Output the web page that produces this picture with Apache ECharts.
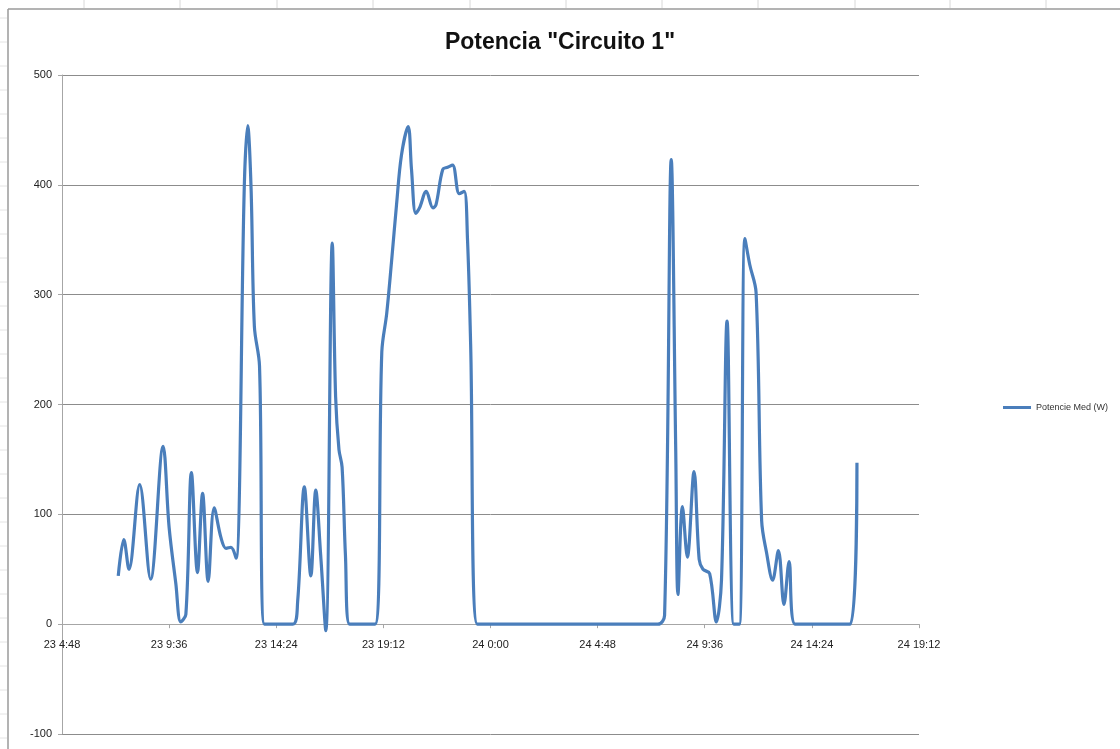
<!DOCTYPE html>
<html>
<head>
<meta charset="utf-8">
<script src="https://cdn.jsdelivr.net/npm/echarts@6/dist/echarts.min.js"></script>
<style>
  html, body { margin: 0; padding: 0; background: #fff; }
  #chart { width: 1120px; height: 749px; }
</style>
</head>
<body>
<div id="chart"></div>
<script>
// hours counted from day 23 0:00
var hours = [
  7.32, 7.57, 7.80, 8.28, 8.77, 9.33, 9.60, 9.90, 10.12, 10.35,
  10.60, 10.87, 11.10, 11.35, 11.62, 11.92, 12.15, 12.37, 12.60, 12.97,
  13.12, 13.27, 13.42, 13.65, 13.87, 15.14, 15.36, 15.66, 15.95, 16.17,
  16.39, 16.62, 16.91, 17.06, 17.21, 17.35, 17.50, 17.69, 18.83, 19.13,
  19.35, 19.57, 19.79, 20.01, 20.31, 20.46, 20.65, 20.82, 21.12, 21.42,
  21.56, 21.86, 22.08, 22.30, 22.60, 22.82, 22.97, 23.11, 23.41, 31.50,
  31.80, 32.10, 32.30, 32.40, 32.60, 32.82, 33.12, 33.35, 33.52, 33.82,
  34.12, 34.35, 34.60, 34.90, 35.15, 35.40, 35.62, 35.90, 36.15, 36.37,
  36.64, 36.90, 37.15, 37.38, 37.65, 40.12, 40.42
];
var potencia = [
  44, 77, 50, 127, 41, 162, 88, 37, 2, 9,
  138, 47, 119, 39, 106, 79, 69, 70, 60, 400,
  454, 398, 271, 235, 0, 0, 21, 125, 44, 122,
  63, -6, 347, 207, 159, 143, 63, 0, 0, 248,
  283, 331, 382, 427, 453, 414, 374, 379, 394, 379,
  382, 414, 416, 418, 392, 394, 350, 255, 0, 0,
  8, 423, 158, 27, 107, 61, 139, 59, 50, 46,
  2, 40, 276, 0, 0, 351, 327, 302, 94, 65,
  40, 67, 18, 57, 0, 0, 147
];
var seriesName = 'Potencie Med (W)';

var chart = echarts.init(document.getElementById('chart'));

function timeLabel(v) {
  var d = Math.floor(v / 24 + 1e-9);
  var rem = v - d * 24;
  var hh = Math.floor(rem + 1e-9);
  var mm = Math.round((rem - hh) * 60);
  if (mm === 60) { hh += 1; mm = 0; }
  return (23 + d) + ' ' + hh + ':' + (mm < 10 ? '0' + mm : mm);
}

var gridTop = 75, gridBottom = 15, yMin = -100, yMax = 500;
// lift the x axis up to the zero line, Excel style
var plotH = 749 - gridTop - gridBottom;
var zeroOffset = -plotH * (0 - yMin) / (yMax - yMin);

// spreadsheet cells behind the chart (decoration only)
var deco = [];
[84, 180, 277, 373, 470, 566, 662, 758, 855, 950, 1046].forEach(function (x) {
  deco.push({ type: 'line', shape: { x1: x, y1: 0, x2: x, y2: 8 }, style: { stroke: '#d8d8d8', lineWidth: 1 }, silent: true });
});
for (var ry = 18; ry < 749; ry += 24) {
  deco.push({ type: 'line', shape: { x1: 0, y1: ry, x2: 7, y2: ry }, style: { stroke: '#e4e4e4', lineWidth: 1 }, silent: true });
}
deco.push({ type: 'line', shape: { x1: 8, y1: 9, x2: 1120, y2: 9 }, style: { stroke: '#9a9a9a', lineWidth: 1.5 }, silent: true });
deco.push({ type: 'line', shape: { x1: 8, y1: 9, x2: 8, y2: 749 }, style: { stroke: '#9a9a9a', lineWidth: 1.5 }, silent: true });

var option = {
  animation: false,
  backgroundColor: '#fff',
  textStyle: { fontFamily: 'Liberation Sans, Arial, sans-serif' },
  graphic: deco,
  title: {
    text: 'Potencia "Circuito 1"',
    left: 'center',
    top: 26,
    textStyle: { fontSize: 23, fontWeight: 'bold', color: '#111', fontFamily: 'Liberation Sans, Arial, sans-serif' }
  },
  legend: {
    left: 998,
    top: 398,
    icon: 'rect',
    itemWidth: 28,
    itemHeight: 3,
    itemGap: 4,
    textStyle: { fontSize: 9, color: '#333' },
    data: [seriesName]
  },
  grid: { left: 62, right: 201, top: gridTop, bottom: gridBottom, containLabel: false },
  xAxis: {
    type: 'value',
    min: 4.8,
    max: 43.2,
    interval: 4.8,
    offset: zeroOffset,
    axisLine: { onZero: false, lineStyle: { color: '#a6a6a6', width: 1 } },
    axisTick: { show: true, length: 4, lineStyle: { color: '#a6a6a6' } },
    axisLabel: { formatter: timeLabel, fontSize: 11, color: '#222', margin: 15 },
    splitLine: { show: false }
  },
  yAxis: {
    type: 'value',
    min: yMin,
    max: yMax,
    interval: 100,
    axisLine: { show: true, lineStyle: { color: '#a6a6a6', width: 1 } },
    axisTick: { show: true, length: 4, lineStyle: { color: '#a6a6a6' } },
    axisLabel: { fontSize: 11, color: '#222', margin: 10 },
    splitLine: { show: true, lineStyle: { color: '#8c8c8c', width: 1 } }
  },
  series: [{
    name: seriesName,
    type: 'line',
    data: hours.map(function (h, i) { return [h, potencia[i]]; }),
    smooth: 0.35,
    symbol: 'none',
    lineStyle: { color: '#4a7ebb', width: 3.2 },
    itemStyle: { color: '#4a7ebb' }
  }]
};

chart.setOption(option);
</script>
</body>
</html>
